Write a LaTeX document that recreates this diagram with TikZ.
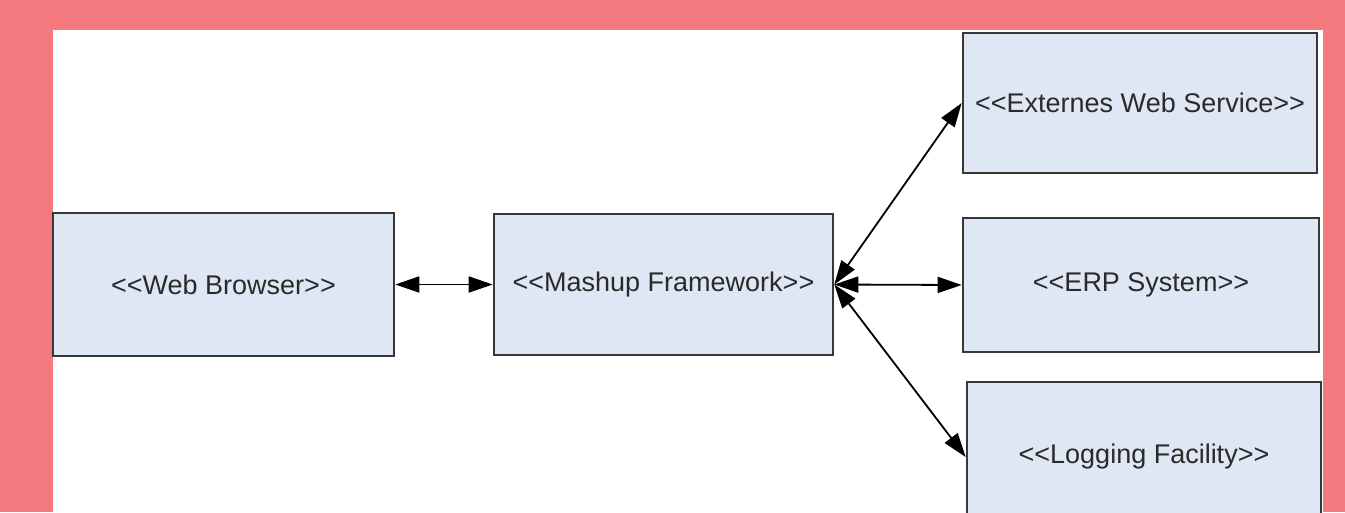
\documentclass[tikz,border=0pt]{standalone}
\usepackage{fontspec}
\setmainfont{Liberation Sans}
\usetikzlibrary{arrows.meta}
\definecolor{pagepink}{HTML}{F47A80}
\definecolor{boxfill}{HTML}{DEE7F3}
\definecolor{boxline}{HTML}{383838}
\definecolor{labeltext}{HTML}{2A2A2A}
% guillemet-free stereotype brackets (a kern stops the << ligature)
\newcommand\stOpen{<\kern0pt<}
\newcommand\stClose{>\kern0pt>}
\tikzset{
  component/.style={draw=boxline, fill=boxfill, line width=2.6pt, rectangle,
    inner sep=0pt, text=labeltext, font=\fontsize{27}{32}\selectfont},
  link/.style={line width=1.8pt, draw=black,
    {Triangle[length=24pt,width=16pt]}-{Triangle[length=24pt,width=16pt]}},
}
\begin{document}
\begin{tikzpicture}[x=1pt, y=-1pt]
  \useasboundingbox (0,0) rectangle (1345,512);
  \clip (0,0) rectangle (1345,512);
  % frame and canvas
  \fill[pagepink] (0,0) rectangle (1345,512);
  \fill[white] (53,30) rectangle (1323,512);

  % components
  \node[component, minimum width=341pt, minimum height=143pt] (browser) at (223.5,284.5) {\stOpen Web Browser\stClose};
  \node[component, minimum width=339pt, minimum height=141pt] (mashup) at (663.5,284.5) {\stOpen Mashup Framework\stClose};
  \node[component, minimum width=354pt, minimum height=140pt] (extern) at (1140,103) {\stOpen Externes Web Service\stClose};
  \node[component, minimum width=356pt, minimum height=134pt] (erp) at (1141,285) {\stOpen ERP System\stClose};
  \node[component, minimum width=354pt, minimum height=150pt] (logging) at (1144,457) {\stOpen Logging Facility\stClose};

  % connectors
  \draw[link] (browser.east) -- (mashup.west);
  \draw[link] (mashup.east) -- (extern.west);
  \draw[link] (mashup.east) -- (erp.west);
  \draw[link] (mashup.east) -- (logging.west);
\end{tikzpicture}
\end{document}
